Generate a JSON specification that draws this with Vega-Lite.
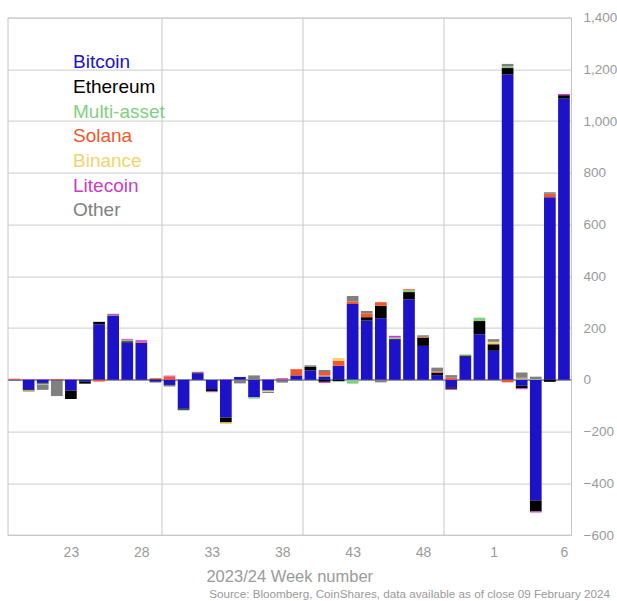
{
  "$schema": "https://vega.github.io/schema/vega-lite/v6.json",
  "autosize": {"type": "none"},
  "width": 563.5,
  "height": 517.4,
  "padding": {"left": 7.5, "top": 17.6, "right": 46, "bottom": 66},
  "background": "white",
  "config": {"font": "Liberation Sans", "view": {"stroke": "#c4c4c4", "strokeWidth": 1}},
  "title": {"text": "Source: Bloomberg, CoinShares, data available as of close 09 February 2024", "orient": "bottom", "anchor": "end", "frame": "group", "fontSize": 11.7, "fontWeight": "normal", "color": "#9a9a9a", "dx": 39, "offset": 4},
  "data": {"values": [
    {"week": "19", "Bitcoin": -2, "Ethereum": 0, "Multi-asset": 0, "Solana": 3, "Binance": 0, "Litecoin": 1, "Other": 0},
    {"week": "20", "Bitcoin": -37, "Ethereum": -4, "Multi-asset": 0, "Solana": 1, "Binance": -3, "Litecoin": 2, "Other": -2},
    {"week": "21", "Bitcoin": -12, "Ethereum": -3, "Multi-asset": -4, "Solana": 0, "Binance": 0, "Litecoin": 2, "Other": -20},
    {"week": "22", "Bitcoin": -3, "Ethereum": 0, "Multi-asset": 0, "Solana": 3, "Binance": 0, "Litecoin": 0, "Other": -60},
    {"week": "23", "Bitcoin": -41, "Ethereum": -33, "Multi-asset": 0, "Solana": 0, "Binance": 0, "Litecoin": 2, "Other": 0},
    {"week": "24", "Bitcoin": -6, "Ethereum": -9, "Multi-asset": 0, "Solana": 0, "Binance": 0, "Litecoin": 0, "Other": 3},
    {"week": "25", "Bitcoin": 214, "Ethereum": 10, "Multi-asset": 0, "Solana": -7, "Binance": 0, "Litecoin": 0, "Other": 0},
    {"week": "26", "Bitcoin": 247, "Ethereum": 0, "Multi-asset": 0, "Solana": 0, "Binance": 0, "Litecoin": 3, "Other": 5},
    {"week": "27", "Bitcoin": 144, "Ethereum": 5, "Multi-asset": 4, "Solana": 2, "Binance": 0, "Litecoin": 3, "Other": 0},
    {"week": "28", "Bitcoin": 143, "Ethereum": 0, "Multi-asset": 0, "Solana": 4, "Binance": 0, "Litecoin": 6, "Other": 0},
    {"week": "29", "Bitcoin": -8, "Ethereum": 2, "Multi-asset": 0, "Solana": 4, "Binance": 0, "Litecoin": 0, "Other": -3},
    {"week": "30", "Bitcoin": -20, "Ethereum": 0, "Multi-asset": 0, "Solana": 13, "Binance": 0, "Litecoin": 3, "Other": -6},
    {"week": "31", "Bitcoin": -112, "Ethereum": -4, "Multi-asset": -3, "Solana": 0, "Binance": 0, "Litecoin": 0, "Other": 1},
    {"week": "32", "Bitcoin": 24, "Ethereum": 4, "Multi-asset": 0, "Solana": 0, "Binance": 0, "Litecoin": 3, "Other": 0},
    {"week": "33", "Bitcoin": -36, "Ethereum": -9, "Multi-asset": 2, "Solana": 0, "Binance": 0, "Litecoin": -3, "Other": 0},
    {"week": "34", "Bitcoin": -146, "Ethereum": -19, "Multi-asset": 0, "Solana": 0, "Binance": -6, "Litecoin": 2, "Other": 0},
    {"week": "35", "Bitcoin": 11, "Ethereum": 0, "Multi-asset": 0, "Solana": 0, "Binance": 0, "Litecoin": 0, "Other": -14},
    {"week": "36", "Bitcoin": -68, "Ethereum": 0, "Multi-asset": -5, "Solana": 0, "Binance": 0, "Litecoin": 0, "Other": 17},
    {"week": "37", "Bitcoin": -42, "Ethereum": 0, "Multi-asset": 0, "Solana": 0, "Binance": -5, "Litecoin": 2, "Other": -4},
    {"week": "38", "Bitcoin": -3, "Ethereum": 0, "Multi-asset": 0, "Solana": 2, "Binance": 0, "Litecoin": 4, "Other": -8},
    {"week": "39", "Bitcoin": 17, "Ethereum": 0, "Multi-asset": 0, "Solana": 24, "Binance": 0, "Litecoin": 0, "Other": -4},
    {"week": "40", "Bitcoin": 36, "Ethereum": 15, "Multi-asset": 0, "Solana": 0, "Binance": 0, "Litecoin": 0, "Other": 5},
    {"week": "41", "Bitcoin": 13, "Ethereum": -8, "Multi-asset": 3, "Solana": 14, "Binance": 0, "Litecoin": -4, "Other": 8},
    {"week": "42", "Bitcoin": 54, "Ethereum": -5, "Multi-asset": -3, "Solana": 20, "Binance": 10, "Litecoin": 0, "Other": 0},
    {"week": "43", "Bitcoin": 293, "Ethereum": 0, "Multi-asset": -15, "Solana": 10, "Binance": 0, "Litecoin": 0, "Other": 21},
    {"week": "44", "Bitcoin": 229, "Ethereum": 13, "Multi-asset": 0, "Solana": 15, "Binance": 0, "Litecoin": 0, "Other": 9},
    {"week": "45", "Bitcoin": 238, "Ethereum": 48, "Multi-asset": 0, "Solana": 14, "Binance": 0, "Litecoin": 0, "Other": -10},
    {"week": "46", "Bitcoin": 155, "Ethereum": 3, "Multi-asset": 5, "Solana": 0, "Binance": 0, "Litecoin": 7, "Other": 0},
    {"week": "47", "Bitcoin": 311, "Ethereum": 28, "Multi-asset": 7, "Solana": 4, "Binance": 0, "Litecoin": 0, "Other": 0},
    {"week": "48", "Bitcoin": 131, "Ethereum": 32, "Multi-asset": 0, "Solana": 3, "Binance": 0, "Litecoin": 0, "Other": 6},
    {"week": "49", "Bitcoin": 18, "Ethereum": 9, "Multi-asset": 0, "Solana": 5, "Binance": 0, "Litecoin": 0, "Other": 15},
    {"week": "50", "Bitcoin": -29, "Ethereum": -6, "Multi-asset": 0, "Solana": 8, "Binance": 0, "Litecoin": -4, "Other": 10},
    {"week": "51", "Bitcoin": 89, "Ethereum": 5, "Multi-asset": 4, "Solana": 0, "Binance": 0, "Litecoin": 0, "Other": 0},
    {"week": "52", "Bitcoin": 176, "Ethereum": 51, "Multi-asset": 13, "Solana": 0, "Binance": 0, "Litecoin": 0, "Other": 0},
    {"week": "1", "Bitcoin": 112, "Ethereum": 25, "Multi-asset": 0, "Solana": 3, "Binance": 7, "Litecoin": 0, "Other": 10},
    {"week": "2", "Bitcoin": 1180, "Ethereum": 25, "Multi-asset": 6, "Solana": -10, "Binance": 0, "Litecoin": 0, "Other": 10},
    {"week": "3", "Bitcoin": -23, "Ethereum": -10, "Multi-asset": 5, "Solana": 3, "Binance": 0, "Litecoin": -4, "Other": 20},
    {"week": "4", "Bitcoin": -466, "Ethereum": -43, "Multi-asset": 3, "Solana": 0, "Binance": 0, "Litecoin": -4, "Other": 9},
    {"week": "5", "Bitcoin": 706, "Ethereum": -8, "Multi-asset": 0, "Solana": 13, "Binance": 0, "Litecoin": 0, "Other": 6},
    {"week": "6", "Bitcoin": 1087, "Ethereum": 13, "Multi-asset": 0, "Solana": 0, "Binance": 0, "Litecoin": 5, "Other": 0}
  ]},
  "transform": [
    {"fold": ["Bitcoin", "Ethereum", "Multi-asset", "Solana", "Binance", "Litecoin", "Other"], "as": ["asset", "flow"]},
    {"lookup": "asset", "from": {"data": {"values": [
      {"asset": "Bitcoin", "rank": 1},
      {"asset": "Ethereum", "rank": 2},
      {"asset": "Multi-asset", "rank": 3},
      {"asset": "Solana", "rank": 4},
      {"asset": "Binance", "rank": 5},
      {"asset": "Litecoin", "rank": 6},
      {"asset": "Other", "rank": 7}
    ]}, "key": "asset", "fields": ["rank"]}}
  ],
  "mark": {"type": "bar"},
  "encoding": {
    "x": {
      "field": "week", "type": "ordinal",
      "scale": {"domain": ["19","20","21","22","23","24","25","26","27","28","29","30","31","32","33","34","35","36","37","38","39","40","41","42","43","44","45","46","47","48","49","50","51","52","1","2","3","4","5","6"], "paddingInner": 0.17, "paddingOuter": 0.085},
      "axis": {
        "title": "2023/24 Week number",
        "tickBand": "extent",
        "ticks": false,
        "domain": false,
        "labelAngle": 0,
        "labelExpr": "indexof(['23','28','33','38','43','48','1','6'], datum.value) >= 0 ? datum.value : ''",
        "labelOverlap": false,
        "labelFontSize": 14,
        "labelColor": "#9a9a9a",
        "labelPadding": 10,
        "grid": true,
        "gridColor": "#c8c8c8",
        "gridOpacity": {"condition": {"test": "indexof(['29','39','49'], datum.value) >= 0", "value": 1}, "value": 0},
        "titleFontSize": 16.5,
        "titleColor": "#9a9a9a",
        "titleFontWeight": "normal",
        "titlePadding": 9
      }
    },
    "y": {
      "field": "flow", "type": "quantitative", "stack": "zero",
      "scale": {"domain": [-600, 1400], "nice": false},
      "axis": {
        "orient": "right",
        "title": null,
        "values": [-600, -400, -200, 0, 200, 400, 600, 800, 1000, 1200, 1400],
        "format": ",.0f",
        "ticks": false,
        "domain": false,
        "labelFontSize": 13.5,
        "labelColor": "#9a9a9a",
        "labelPadding": 12,
        "gridColor": {"condition": {"test": "datum.value === 0", "value": "#999999"}, "value": "#cccccc"},
        "gridWidth": {"condition": {"test": "datum.value === 0", "value": 2}, "value": 1}
      }
    },
    "order": {"field": "rank", "type": "quantitative", "sort": "ascending"},
    "color": {
      "field": "asset", "type": "nominal",
      "scale": {"domain": ["Bitcoin", "Ethereum", "Multi-asset", "Solana", "Binance", "Litecoin", "Other"], "range": ["#1c12c8", "#000000", "#80d080", "#f0582c", "#f3d36b", "#c83cc8", "#808080"]},
      "legend": {
        "orient": "none",
        "legendX": 46.5,
        "legendY": 35,
        "title": null,
        "symbolSize": 0,
        "symbolOpacity": 0,
        "symbolStrokeWidth": 0,
        "labelOffset": 0,
        "labelFontSize": 19,
        "labelLimit": 300,
        "rowPadding": 4.7,
        "padding": 0,
        "labelColor": {"expr": "scale('color', datum.value)"}
      }
    }
  }
}
